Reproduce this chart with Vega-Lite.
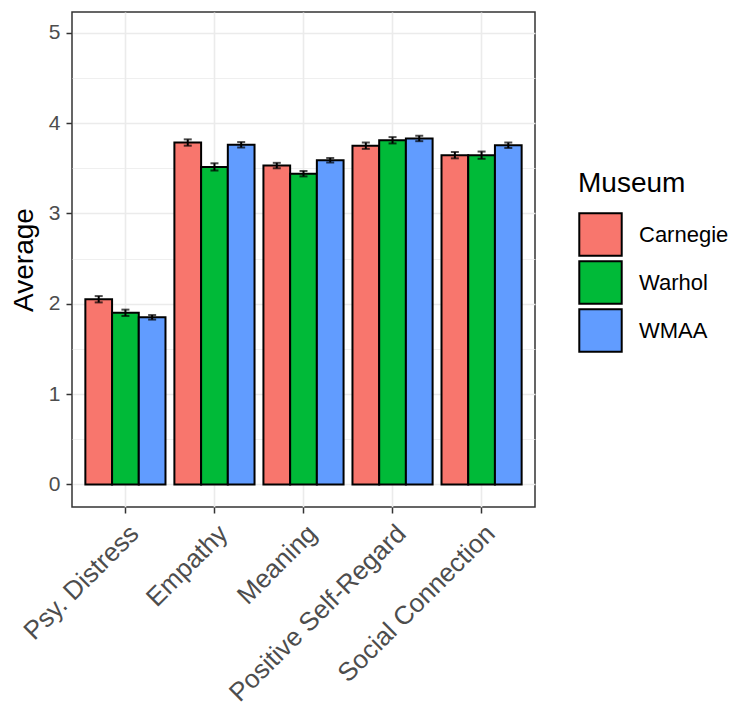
{
  "$schema": "https://vega.github.io/schema/vega-lite/v6.json",
  "autosize": "none",
  "width": 463,
  "height": 495,
  "padding": {"left": 72, "top": 12, "right": 198, "bottom": 199},
  "background": "white",
  "config": {
    "font": "Liberation Sans",
    "view": {"stroke": "#333333", "strokeWidth": 1.5},
    "axis": {"domain": false, "gridColor": "#EBEBEB", "tickColor": "#333333", "tickWidth": 1.5, "tickSize": 6, "labelColor": "#4D4D4D", "labelFont": "Liberation Sans", "titleFont": "Liberation Sans", "titleFontWeight": "normal", "titleColor": "black", "labelLimit": 0},
    "legend": {"titleFont": "Liberation Sans", "labelFont": "Liberation Sans", "titleFontWeight": "normal"}
  },
  "data": {
    "values": [
      {"Measure": "Psy. Distress", "Museum": "Carnegie", "Average": 2.05, "lo": 2.015, "hi": 2.085},
      {"Measure": "Psy. Distress", "Museum": "Warhol", "Average": 1.9, "lo": 1.865, "hi": 1.935},
      {"Measure": "Psy. Distress", "Museum": "WMAA", "Average": 1.85, "lo": 1.825, "hi": 1.875},
      {"Measure": "Empathy", "Museum": "Carnegie", "Average": 3.785, "lo": 3.75, "hi": 3.82},
      {"Measure": "Empathy", "Museum": "Warhol", "Average": 3.515, "lo": 3.475, "hi": 3.555},
      {"Measure": "Empathy", "Museum": "WMAA", "Average": 3.76, "lo": 3.73, "hi": 3.79},
      {"Measure": "Meaning", "Museum": "Carnegie", "Average": 3.53, "lo": 3.5, "hi": 3.56},
      {"Measure": "Meaning", "Museum": "Warhol", "Average": 3.44, "lo": 3.41, "hi": 3.47},
      {"Measure": "Meaning", "Museum": "WMAA", "Average": 3.59, "lo": 3.565, "hi": 3.615},
      {"Measure": "Positive Self-Regard", "Museum": "Carnegie", "Average": 3.75, "lo": 3.715, "hi": 3.785},
      {"Measure": "Positive Self-Regard", "Museum": "Warhol", "Average": 3.81, "lo": 3.775, "hi": 3.845},
      {"Measure": "Positive Self-Regard", "Museum": "WMAA", "Average": 3.83, "lo": 3.8, "hi": 3.86},
      {"Measure": "Social Connection", "Museum": "Carnegie", "Average": 3.645, "lo": 3.61, "hi": 3.68},
      {"Measure": "Social Connection", "Museum": "Warhol", "Average": 3.645, "lo": 3.605, "hi": 3.685},
      {"Measure": "Social Connection", "Museum": "WMAA", "Average": 3.755, "lo": 3.725, "hi": 3.785}
    ]
  },
  "encoding": {
    "x": {
      "field": "Measure", "type": "nominal",
      "sort": ["Psy. Distress", "Empathy", "Meaning", "Positive Self-Regard", "Social Connection"],
      "scale": {"type": "band", "paddingInner": 0.1, "paddingOuter": 0.15},
      "axis": {"title": null, "grid": true, "gridWidth": 1.6, "bandPosition": 0.5, "labelAngle": -45, "labelAlign": "right", "labelBaseline": "top", "labelFontSize": 26, "labelPadding": 7, "labelLimit": 0}
    },
    "xOffset": {
      "field": "Museum", "type": "nominal",
      "sort": ["Carnegie", "Warhol", "WMAA"],
      "scale": {"paddingInner": 0, "paddingOuter": 0}
    }
  },
  "layer": [
    {
      "mark": {"type": "bar", "stroke": "black", "strokeWidth": 2},
      "encoding": {
        "y": {
          "field": "Average", "type": "quantitative",
          "scale": {"domain": [-0.25, 5.23], "nice": false, "zero": false},
          "axis": {
            "title": "Average", "titleFontSize": 28, "titlePadding": 10,
            "values": [0, 0.5, 1, 1.5, 2, 2.5, 3, 3.5, 4, 4.5, 5],
            "labelExpr": "datum.value % 1 === 0 ? format(datum.value, 'd') : ''",
            "labelFontSize": 21, "labelPadding": 6,
            "grid": true,
            "gridWidth": {"condition": {"test": "datum.value % 1 !== 0", "value": 0.8}, "value": 1.6},
            "tickOpacity": {"condition": {"test": "datum.value % 1 !== 0", "value": 0}, "value": 1}
          }
        },
        "y2": {"datum": 0},
        "fill": {
          "field": "Museum", "type": "nominal",
          "sort": ["Carnegie", "Warhol", "WMAA"],
          "scale": {"domain": ["Carnegie", "Warhol", "WMAA"], "range": ["#F8766D", "#00BA38", "#619CFF"]},
          "legend": {
            "title": "Museum", "orient": "none", "legendX": 506, "legendY": 158,
            "titleFontSize": 28, "titlePadding": 14, "titleColor": "black",
            "labelFontSize": 22, "labelColor": "black", "labelOffset": 16,
            "symbolType": "square", "symbolSize": 1800, "symbolStrokeColor": "black", "symbolStrokeWidth": 2, "symbolOpacity": 1,
            "rowPadding": -7
          }
        }
      }
    },
    {
      "mark": {"type": "rule", "color": "black", "strokeWidth": 2},
      "encoding": {
        "y": {"field": "lo", "type": "quantitative"},
        "y2": {"field": "hi"}
      }
    },
    {
      "mark": {"type": "tick", "color": "black", "thickness": 2, "size": 8, "orient": "horizontal"},
      "encoding": {"y": {"field": "lo", "type": "quantitative"}}
    },
    {
      "mark": {"type": "tick", "color": "black", "thickness": 2, "size": 8, "orient": "horizontal"},
      "encoding": {"y": {"field": "hi", "type": "quantitative"}}
    }
  ]
}
